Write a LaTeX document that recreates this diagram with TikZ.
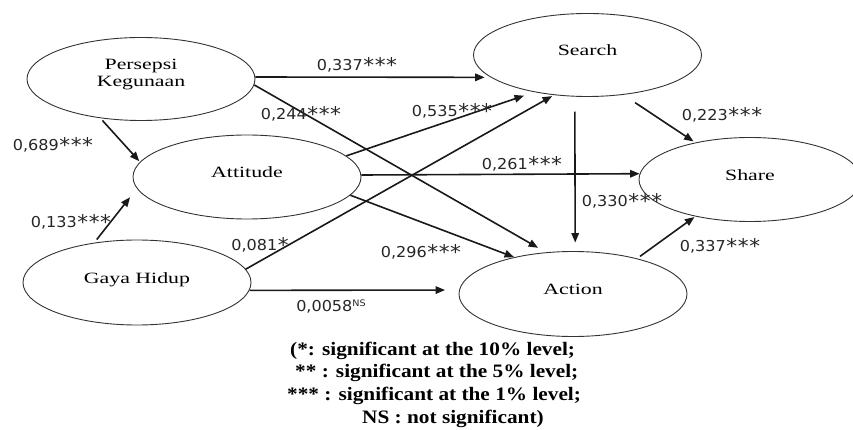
\documentclass[tikz,border=0pt]{standalone}
\usepackage{fontspec}
\setmainfont{Liberation Serif}
\newfontfamily\nodefont[FakeStretch=1.39]{Liberation Serif}
\newfontfamily\labfont[FakeStretch=1.07]{DejaVu Sans}
\usetikzlibrary{arrows.meta,shapes.geometric}
\newcommand{\bigast}{\raisebox{-1.5pt}{\scalebox{1.35}{*}}}
\newcommand{\tst}{\kern0.5pt\bigast\kern0.6pt\bigast\kern0.6pt\bigast}
\newcommand{\legtxt}[1]{\scalebox{1.12}[1]{#1}}
\tikzset{
  lat/.style={ellipse, draw=black!80, line width=0.9pt, minimum width=228pt,
    minimum height=84pt, inner sep=0pt, text=black,
    font={\nodefont\fontsize{15.7}{17.5}\selectfont},
    text height=10.7pt, text depth=9.5pt},
  arr/.style={-{Triangle[length=9.5pt,width=7.5pt]}, line width=1.6pt, draw=black!90},
  lab/.style={font={\labfont\fontsize{15}{15}\selectfont}, inner sep=0pt, text=black!85},
  leg/.style={font={\bfseries\fontsize{19}{19}\selectfont}, anchor=base west,
    inner sep=0pt, text=black}
}
\begin{document}
\begin{tikzpicture}[x=1pt,y=-1pt]
\useasboundingbox (0,0) rectangle (853,430);
% latent variables
\node[lat, align=center, text height=28.2pt, text depth=12.2pt, minimum height=83pt] (pk) at (141,79) {Persepsi\\Kegunaan};
\node[lat] (att) at (247,177) {Attitude};
\node[lat, minimum height=85pt] (gh) at (137,282.5) {Gaya Hidup};
\node[lat, minimum height=83pt] (search) at (587.5,55) {Search};
\node[lat, minimum width=222pt] (share) at (750,179.5) {Share};
\node[lat, minimum height=85pt] (action) at (573,294) {Action};
% paths
\draw[arr, shorten <=3pt, shorten >=1pt] (pk.224) -- (att.172);
\draw[arr, shorten <=4pt, shorten >=11pt] (gh.137) -- (att.186);
\draw[arr, shorten >=6pt] (pk.1) -- (search.193);
\draw[arr, shorten >=9pt] (pk.357) -- (action.123);
\draw[arr, shorten >=11pt] (att.12) -- (search.215);
\draw[arr, shorten >=2pt] (gh.7) -- (search.230);
\draw[arr] (att.1.5) -- (share.177);
\draw[arr] (att.350) -- (action.148);
\draw[arr, shorten >=14pt] (gh.356) -- (action.178);
\draw[arr, shorten <=15pt, shorten >=8.5pt] (search.253) -- (action.87);
\draw[arr, shorten <=14pt, shorten >=2pt] (search.312) -- (share.146);
\draw[arr, shorten <=3.5pt, shorten >=1pt] (action.29) -- (share.214);
% coefficients
\node[lab] (c1) at (357,65) {0,337\tst};
\node[lab] (c2) at (301,114) {0,244\tst};
\node[lab] (c3) at (452,111) {0,535\tst};
\node[lab] (c4) at (53,145) {0,689\tst};
\node[lab] (c5) at (71,222) {0,133\tst};
\node[lab] (c6) at (260,245) {0,081\kern0.5pt\bigast};
\node[lab] (c7) at (421,252) {0,296\tst};
\node[lab] (c8) at (331,307) {0,0058\raisebox{5pt}{\fontsize{9}{9}\selectfont NS}};
\node[lab] (c9) at (522,164) {0,261\tst};
\node[lab] (c10) at (622,201) {0,330\tst};
\node[lab] (c11) at (722,115) {0,223\tst};
\node[lab] (c12) at (720,246) {0,337\tst};
% legend
\node[leg] (g1) at (290,355) {\legtxt{(*: significant at the 10\% level;}};
\node[leg] (g2) at (295,377.5) {\legtxt{** : significant at the 5\% level;}};
\node[leg] (g3) at (287,400) {\legtxt{*** : significant at the 1\% level;}};
\node[leg] (g4) at (362,423) {\legtxt{NS : not significant)}};
\end{tikzpicture}
\end{document}
